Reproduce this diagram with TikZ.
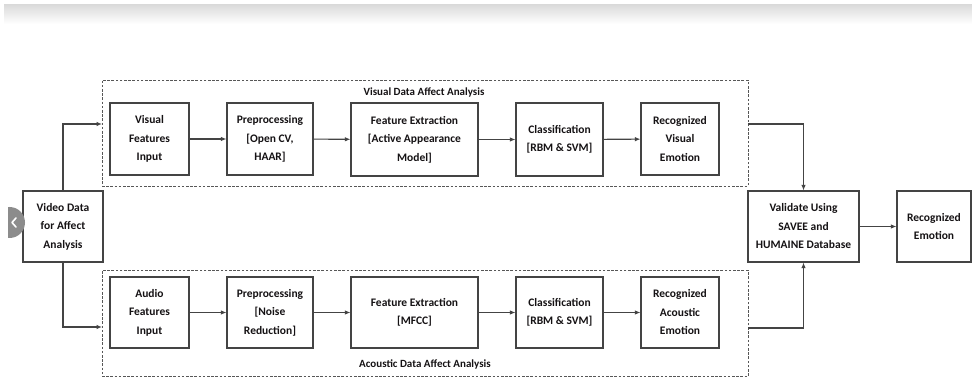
\documentclass[tikz,border=0pt]{standalone}
\usepackage{fontspec}
\setmainfont{Carlito}
\usetikzlibrary{arrows.meta}
\definecolor{edge}{HTML}{444444}
\definecolor{ink}{HTML}{151214}
\tikzset{
  stage/.style={draw=edge, line width=1.1pt, fill=white, align=center, inner sep=2pt,
    font=\fontsize{11.5}{18.5}\selectfont\bfseries, text=ink},
  group/.style={draw=edge!90, line width=0.9pt, dash pattern=on 2.6pt off 1.6pt},
  grouptitle/.style={font=\fontsize{11}{13}\selectfont\bfseries, text=ink},
  flow/.style={draw=edge, line width=1.1pt, -{Latex[length=5.5pt,width=4.5pt]}},
}
\begin{document}
\begin{tikzpicture}[x=1pt,y=-1pt]
\useasboundingbox (0,0) rectangle (972,379);
\fill[white] (0,0) rectangle (972,379);
% browser header strip
\shade[top color=black!14, bottom color=white] (4,5) rectangle (972,24);

% dashed analysis groups
\node[group, minimum width=646pt, minimum height=106pt] (vgroup) at (425,133) {};
\node[group, minimum width=646pt, minimum height=106pt] (agroup) at (425,323.5) {};
\node[grouptitle] (vtitle) at (424,93) {Visual Data Affect Analysis};
\node[grouptitle] (atitle) at (425,364) {Acoustic Data Affect Analysis};

% source
\node[stage, minimum width=80pt, minimum height=71pt] (video) at (63,226.5) {Video Data\\for Affect\\Analysis};

% visual pipeline
\node[stage, minimum width=79pt, minimum height=72pt] (vin) at (149.5,139) {Visual\\Features\\Input};
\node[stage, minimum width=86pt, minimum height=72pt] (vpre) at (270,139) {Preprocessing\\{[}Open CV,\\HAAR{]}};
\node[stage, minimum width=127pt, minimum height=73pt] (vfe) at (414.5,139.5) {Feature Extraction\\{[}Active Appearance\\Model{]}};
\node[stage, minimum width=87pt, minimum height=73pt] (vcls) at (559.5,139.5) {Classification\\{[}RBM \& SVM{]}};
\node[stage, minimum width=78pt, minimum height=72pt] (vrec) at (680,139) {Recognized\\Visual\\Emotion};

% acoustic pipeline
\node[stage, minimum width=79pt, minimum height=71pt] (ain) at (149.5,312.5) {Audio\\Features\\Input};
\node[stage, minimum width=86pt, minimum height=71pt] (apre) at (270,312.5) {Preprocessing\\{[}Noise\\Reduction{]}};
\node[stage, minimum width=127pt, minimum height=71pt] (afe) at (414.5,312.5) {Feature Extraction\\{[}MFCC{]}};
\node[stage, minimum width=87pt, minimum height=71pt] (acls) at (559.5,312.5) {Classification\\{[}RBM \& SVM{]}};
\node[stage, minimum width=78pt, minimum height=71pt] (arec) at (680,312.5) {Recognized\\Acoustic\\Emotion};

% fusion and result
\node[stage, minimum width=111pt, minimum height=71pt] (val) at (803.5,226.5) {Validate Using\\SAVEE and\\HUMAINE Database};
\node[stage, minimum width=74pt, minimum height=71pt] (remo) at (934,226.5) {Recognized\\Emotion};

% group entry and exit points
\coordinate (ventry) at (102,124);
\coordinate (aentry) at (102,327);
\coordinate (vexit) at (748,124);
\coordinate (aexit) at (748,328);

% connectors
\draw[flow] (video.north) |- (ventry);
\draw[flow] (video.south) |- (aentry);
\draw[flow] (vin) -- (vpre);
\draw[flow] (vpre) -- (vfe);
\draw[flow] (vfe) -- (vcls);
\draw[flow] (vcls) -- (vrec);
\draw[flow] (ain) -- (apre);
\draw[flow] (apre) -- (afe);
\draw[flow] (afe) -- (acls);
\draw[flow] (acls) -- (arec);
\draw[flow] (vexit) -| (val.north);
\draw[flow] (aexit) -| (val.south);
\draw[flow] (val) -- (remo);

% page navigation button
\begin{scope}
  \clip (8,200) rectangle (40,250);
  \fill[black!45] (9.5,222.5) circle (15.5);
\end{scope}
\coordinate (navback) at (13.5,222.5);
\draw[white, line width=1.6pt, line cap=round, line join=round]
  ([shift={(2.5,-4.5)}]navback) -- ([shift={(-1.5,0)}]navback) -- ([shift={(2.5,4.5)}]navback);
\end{tikzpicture}
\end{document}
